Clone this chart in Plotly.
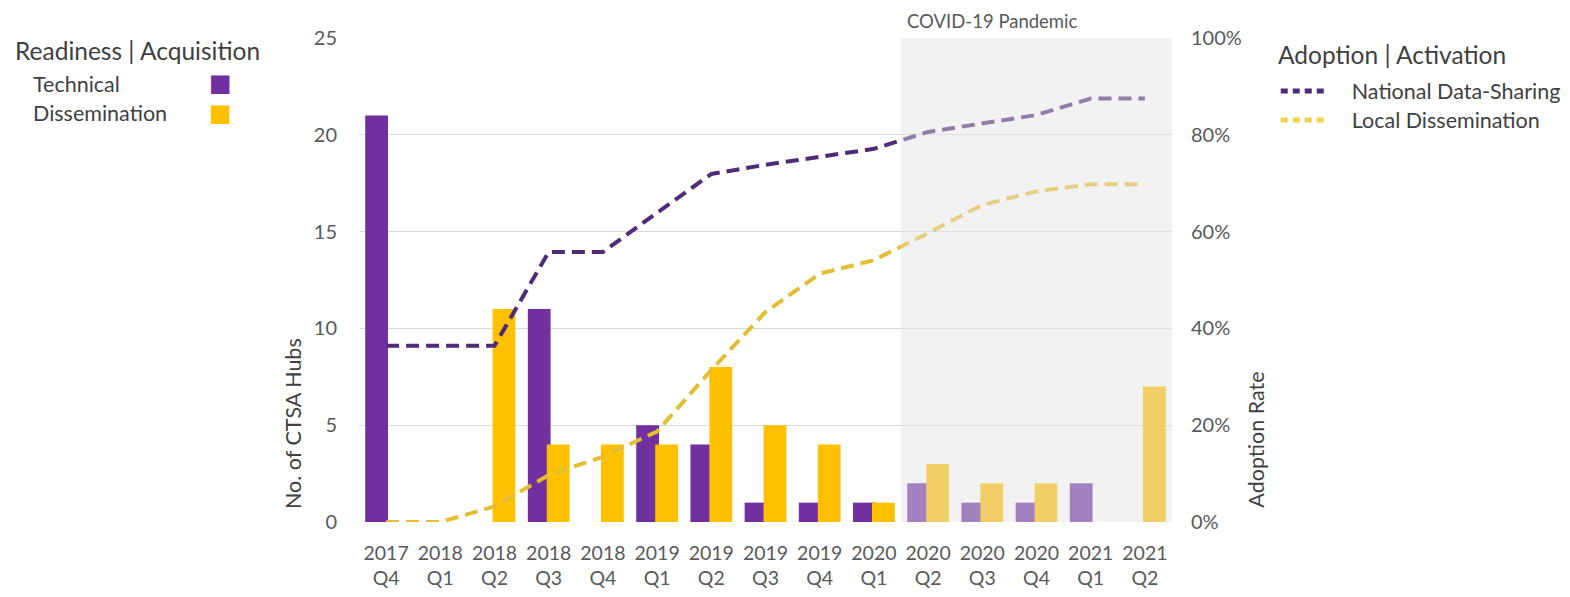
import plotly.graph_objects as go

# ---------------- data ----------------
quarters = ["2017 Q4", "2018 Q1", "2018 Q2", "2018 Q3", "2018 Q4",
            "2019 Q1", "2019 Q2", "2019 Q3", "2019 Q4", "2020 Q1",
            "2020 Q2", "2020 Q3", "2020 Q4", "2021 Q1", "2021 Q2"]
technical = [21, 0, 0, 11, 0, 5, 4, 1, 1, 1, 2, 1, 1, 2, 0]
dissemination = [0, 0, 11, 4, 4, 4, 8, 5, 4, 1, 3, 2, 2, 0, 7]
national_rate = [0.364, 0.364, 0.364, 0.558, 0.558, 0.639, 0.719, 0.738,
                 0.754, 0.771, 0.806, 0.824, 0.841, 0.875, 0.875]
local_rate = [0.0, 0.0, 0.032, 0.097, 0.135, 0.187, 0.314, 0.434,
              0.513, 0.541, 0.597, 0.655, 0.683, 0.698, 0.698]
y_ticks = [0, 5, 10, 15, 20, 25]
pandemic_start = "2020 Q2"

labels = [q.replace(" ", "<br>") for q in quarters]

PURPLE = "#7030a0"
YELLOW = "#ffc000"
LINE_PURPLE = "#4e2a78"
LINE_YELLOW = "#e3be33"
GREY = "#595959"
DARK = "#404040"
FONT = "Lato"
LEGEND_DOTS = "7px,5px,7px,5px,7px,5px,7px,60px"

fig = go.Figure()

fig.add_trace(go.Bar(x=labels, y=technical, name="Technical",
                     marker=dict(color=PURPLE, line=dict(width=0)),
                     width=0.42, offset=-0.385, showlegend=False))
fig.add_trace(go.Bar(x=labels, y=dissemination, name="Dissemination",
                     marker=dict(color=YELLOW, line=dict(width=0)),
                     width=0.42, offset=-0.035, showlegend=False))

fig.add_trace(go.Scatter(x=labels, y=national_rate, yaxis="y2", mode="lines",
                         line=dict(color=LINE_PURPLE, width=4, dash="13px,7px"),
                         showlegend=False))
fig.add_trace(go.Scatter(x=labels, y=local_rate, yaxis="y2", mode="lines",
                         line=dict(color=LINE_YELLOW, width=4, dash="13px,7px"),
                         showlegend=False))

# legend-only entries for the lines (dotted symbol as in the reference)
fig.add_trace(go.Scatter(x=[None], y=[None], yaxis="y2", mode="lines",
                         name="National Data-Sharing", legend="legend",
                         line=dict(color=LINE_PURPLE, width=5, dash=LEGEND_DOTS)))
fig.add_trace(go.Scatter(x=[None], y=[None], yaxis="y2", mode="lines",
                         name="Local Dissemination", legend="legend2",
                         line=dict(color="#f2d34a", width=5, dash=LEGEND_DOTS)))

start_idx = quarters.index(pandemic_start) - 0.5
end_idx = len(quarters) - 0.5

fig.add_shape(type="rect", xref="x", yref="paper",
              x0=start_idx, x1=end_idx, y0=0, y1=1,
              fillcolor="rgba(226,226,226,0.45)", line=dict(width=0),
              layer="above")

annotations = [
    dict(text="COVID-19 Pandemic", xref="x", yref="paper", x=start_idx, y=1.0,
         xanchor="left", yanchor="bottom", xshift=4, yshift=4, showarrow=False,
         font=dict(family=FONT, size=18.5, color=GREY)),
    dict(text="No. of CTSA Hubs", xref="paper", yref="paper", x=-0.081, y=0.022,
         xanchor="center", yanchor="bottom", textangle=-90, showarrow=False,
         font=dict(family=FONT, size=21.5, color=DARK)),
    dict(text="Adoption Rate", xref="paper", yref="paper", x=1.103, y=0.025,
         xanchor="center", yanchor="bottom", textangle=-90, showarrow=False,
         font=dict(family=FONT, size=21.5, color=DARK)),
    dict(text="Readiness | Acquisition", xref="paper", yref="paper",
         x=-0.425, y=0.975, xanchor="left", yanchor="middle", showarrow=False,
         font=dict(family=FONT, size=24.5, color=DARK)),
    dict(text="Technical", xref="paper", yref="paper",
         x=-0.403, y=0.905, xanchor="left", yanchor="middle", showarrow=False,
         font=dict(family=FONT, size=21.5, color=DARK)),
    dict(text="Dissemination", xref="paper", yref="paper",
         x=-0.403, y=0.845, xanchor="left", yanchor="middle", showarrow=False,
         font=dict(family=FONT, size=21.5, color=DARK)),
    dict(text="■", xref="paper", yref="paper",
         x=-0.1706, y=0.907, xanchor="center", yanchor="middle", showarrow=False,
         font=dict(family="DejaVu Sans", size=24, color=PURPLE)),
    dict(text="■", xref="paper", yref="paper",
         x=-0.1706, y=0.845, xanchor="center", yanchor="middle", showarrow=False,
         font=dict(family="DejaVu Sans", size=24, color=YELLOW)),
    dict(text="Adoption | Activation", xref="paper", yref="paper",
         x=1.128, y=0.965, xanchor="left", yanchor="middle", showarrow=False,
         font=dict(family=FONT, size=24.5, color=DARK)),
]

legend_common = dict(xanchor="left", yanchor="middle", bgcolor="rgba(0,0,0,0)",
                     font=dict(family=FONT, size=21.5, color=DARK), itemwidth=66)

fig.update_layout(
    width=1570, height=597,
    margin=dict(l=351, r=404, t=30, b=83),
    paper_bgcolor="white", plot_bgcolor="white",
    barmode="overlay",
    font=dict(family=FONT, color=GREY),
    xaxis=dict(type="category", range=[-0.5, len(quarters) - 0.5],
               showgrid=False, showline=False, zeroline=False,
               ticks="", tickfont=dict(family=FONT, size=19.5, color=GREY),
               ticklabelstandoff=17),
    yaxis=dict(range=[0, 25], tickvals=y_ticks, showgrid=True,
               gridcolor="#d9d9d9", gridwidth=1, zeroline=False, showline=False,
               ticks="", tickfont=dict(family=FONT, size=20, color=GREY),
               ticklabelstandoff=21),
    yaxis2=dict(overlaying="y", side="right", range=[0, 1], dtick=0.2,
                tickformat=".0%", showgrid=False, zeroline=False, showline=False,
                ticks="", tickfont=dict(family=FONT, size=20, color=GREY),
                ticklabelstandoff=18),
    legend=dict(x=1.1276, y=0.8905, **legend_common),
    legend2=dict(x=1.1276, y=0.8306, **legend_common),
    annotations=annotations,
    showlegend=True,
)

fig.write_html("out.html")
